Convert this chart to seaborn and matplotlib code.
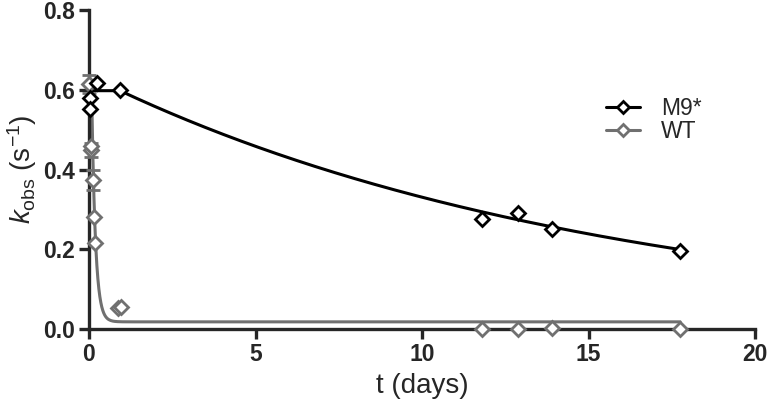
import numpy as np
import pandas as pd
import matplotlib
matplotlib.use("Agg")
import matplotlib.pyplot as plt
import seaborn as sns
from matplotlib.lines import Line2D

# datos
t_m9 = [0.02, 0.03, 0.23, 0.93, 11.81, 12.88, 13.9, 17.75]
k_m9 = [0.58, 0.553, 0.617, 0.60, 0.277, 0.292, 0.251, 0.196]

t_wt = [0.01, 0.05, 0.06, 0.11, 0.15, 0.18, 0.88, 0.95, 11.81, 12.88, 13.9, 17.75]
k_wt = [0.615, 0.449, 0.458, 0.373, 0.28, 0.216, 0.052, 0.056, 0.0, 0.0, 0.002, 0.0]
err_wt = [0.022, 0.017, 0.0, 0.025, 0.0, 0.0, 0.0, 0.0, 0.0, 0.0, 0.0, 0.0]

# parametros del ajuste (meseta seguida de decaimiento exponencial)
ajuste_m9 = {"y0": 0.598, "x0": 0.93, "k": 0.0653, "plateau": 0.0}
ajuste_wt = {"y0": 0.60, "x0": 0.08, "k": 9.0, "plateau": 0.018}
t_fin = 17.75

negro = "#000000"
gris = "#707070"


def curva(p):
    t = np.linspace(0, t_fin, 600)
    y = np.where(t < p["x0"], p["y0"],
                 p["plateau"] + (p["y0"] - p["plateau"]) * np.exp(-p["k"] * (t - p["x0"])))
    return pd.DataFrame({"t": t, "k": y})


sns.set_style("ticks")
plt.rcParams["font.family"] = ["Liberation Sans", "DejaVu Sans"]
plt.rcParams["mathtext.fontset"] = "custom"
plt.rcParams["mathtext.rm"] = "Liberation Sans"
plt.rcParams["mathtext.it"] = "Liberation Sans:italic"

fig = plt.figure(figsize=(7.71, 4.07), dpi=100)
ax = fig.add_axes([0.1154, 0.1916, 0.864, 0.7834])

sns.lineplot(data=curva(ajuste_wt), x="t", y="k", color=gris, lw=2.2, ax=ax)
sns.lineplot(data=curva(ajuste_m9), x="t", y="k", color=negro, lw=2.2, ax=ax)

ax.errorbar(t_wt, k_wt, yerr=err_wt, fmt="D", color=gris, mfc="white", mec=gris,
            ms=7, mew=2, ecolor=gris, elinewidth=2, capsize=5, capthick=2,
            clip_on=False, zorder=3)
ax.plot(t_m9, k_m9, "D", color=negro, mfc="white", mec=negro, ms=7, mew=2,
        clip_on=False, zorder=4)

ax.set_xlim(0, 20)
ax.set_ylim(0, 0.8)
ax.set_xticks([0, 5, 10, 15, 20])
ax.set_yticks([0.0, 0.2, 0.4, 0.6, 0.8])
ax.set_yticklabels(["0.0", "0.2", "0.4", "0.6", "0.8"])
sns.despine(ax=ax)
for s in ["left", "bottom"]:
    ax.spines[s].set_linewidth(2.4)
ax.tick_params(width=2.4, length=7, labelsize=16.5, pad=3)
for lab in ax.get_xticklabels() + ax.get_yticklabels():
    lab.set_fontweight("bold")

ax.set_xlabel("t (days)", fontsize=20, labelpad=5)
ax.set_ylabel(r"$k_{\mathrm{obs}}$ (s$^{-1}$)", fontsize=20, labelpad=3)

handles = [
    Line2D([], [], color=negro, lw=2.2, marker="D", ms=6, mfc="white", mew=2),
    Line2D([], [], color=gris, lw=2.2, marker="D", ms=6, mfc="white", mew=2),
]
ax.legend(handles, ["M9*", "WT"], frameon=False, fontsize=16.5, handlelength=1.5,
          handletextpad=0.9, loc="center left", bbox_to_anchor=(0.745, 0.655),
          labelspacing=0.02)

fig.savefig("out.png", dpi=100)
